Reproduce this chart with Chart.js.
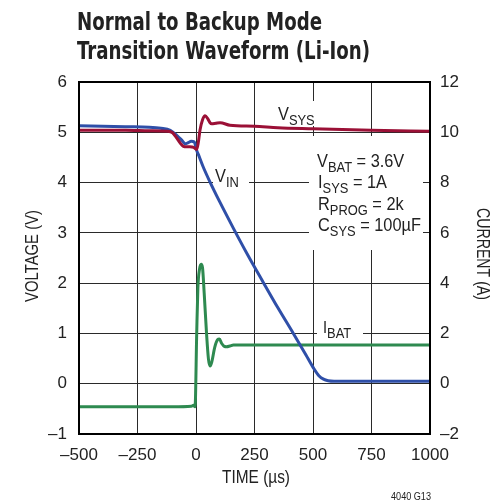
<!DOCTYPE html>
<html>
<head>
<meta charset="utf-8">
<script src="https://cdn.jsdelivr.net/npm/chart.js@4.4.1/dist/chart.umd.min.js"></script>
<style>
  body { margin: 0; background: #fff; }
  #wrap { width: 493px; height: 504px; position: relative; }
</style>
</head>
<body>
<div id="wrap"><canvas id="myChart"></canvas></div>
<script>
// datos (tiempo en us)
var tiempoVsys = [-500, -300, -200, -120, -100, -83, -65, -54, -40, -26, -10, 3, 10, 17, 28, 39, 50, 60, 67, 85, 103, 145, 250, 350, 500, 750, 1000];
var vsys = [5.04, 5.04, 5.03, 5.02, 4.99, 4.89, 4.77, 4.72, 4.71, 4.71, 4.70, 4.66, 4.80, 5.04, 5.25, 5.33, 5.27, 5.19, 5.17, 5.18, 5.19, 5.14, 5.12, 5.09, 5.07, 5.04, 5.02];

var tiempoVin = [-500, -400, -300, -200, -150, -110, -80, -60, -45, -35, -20, -8, 0, 3, 10, 30, 60, 100, 160, 220, 287, 350, 416, 470, 501, 525, 545, 565, 590, 700, 850, 1000];
var vin = [5.13, 5.12, 5.11, 5.10, 5.08, 5.04, 4.93, 4.84, 4.77, 4.79, 4.82, 4.81, 4.70, 4.64, 4.56, 4.32, 4.01, 3.63, 3.09, 2.57, 2.02, 1.51, 1.00, 0.57, 0.32, 0.16, 0.09, 0.06, 0.05, 0.05, 0.05, 0.05];

var tiempoIbat = [-500, -300, -100, -20, -10, -4, 3, 8, 15, 22, 28, 35, 45, 53, 60, 67, 80, 92, 100, 110, 122, 131, 145, 160, 400, 700, 1000];
var ibat = [-0.92, -0.92, -0.92, -0.90, -0.86, -0.92, 2.0, 3.8, 4.55, 4.75, 4.6, 3.6, 2.0, 1.0, 0.70, 0.85, 1.45, 1.75, 1.78, 1.60, 1.48, 1.47, 1.50, 1.54, 1.54, 1.54, 1.54];

var FUENTE = "'Liberation Sans', Arial, sans-serif";
var FUENTE_TIT = "'DejaVu Sans Condensed', 'Liberation Sans', sans-serif";
var ESC = 0.86; // el original usa letra estrecha

function puntos(xs, ys) {
    var res = [];
    for (var i = 0; i < xs.length; i++) res.push({x: xs[i], y: ys[i]});
    return res;
}

function guion(v) {
    return String(v).replace('-', '\u2013');
}

// texto con subindice: principal, sub, resto
function textoSub(ctx, x, y, main, sub, resto, tam, tamSub) {
    ctx.save();
    ctx.translate(x, y);
    ctx.scale(ESC, 1);
    var px = 0;
    ctx.font = tam + "px " + FUENTE;
    ctx.fillText(main, px, 0);
    px += ctx.measureText(main).width;
    ctx.font = tamSub + "px " + FUENTE;
    ctx.fillText(sub, px, 5);
    px += ctx.measureText(sub).width;
    if (resto) {
        ctx.font = tam + "px " + FUENTE;
        ctx.fillText(resto, px, 0);
    }
    ctx.restore();
}

// texto ajustado a un ancho
function textoAncho(ctx, txt, x, y, ancho) {
    var w = ctx.measureText(txt).width;
    ctx.save();
    ctx.translate(x, y);
    ctx.scale(ancho / w, 1);
    ctx.fillText(txt, 0, 0);
    ctx.restore();
}

var cajas = {
    id: 'cajas',
    beforeDatasetsDraw: function(chart) {
        var ctx = chart.ctx;
        ctx.save();
        ctx.fillStyle = '#fff';
        ctx.fillRect(275, 101, 42, 25);
        ctx.fillRect(213, 165, 36, 28);
        ctx.fillRect(309, 136, 114, 114);
        ctx.fillRect(317, 317, 46, 24);
        ctx.restore();
    },
    afterDatasetsDraw: function(chart) {
        var a = chart.chartArea;
        var ctx = chart.ctx;
        ctx.save();
        ctx.strokeStyle = '#000';
        ctx.lineWidth = 2;
        ctx.strokeRect(a.left, a.top, a.right - a.left, a.bottom - a.top);
        ctx.restore();
    },
    afterDraw: function(chart) {
        var ctx = chart.ctx;
        ctx.save();
        ctx.fillStyle = '#222';
        ctx.textBaseline = 'alphabetic';
        ctx.textAlign = 'left';

        // titulo
        ctx.font = "bold 25px " + FUENTE_TIT;
        textoAncho(ctx, "Normal to Backup Mode", 77, 30, 245);
        textoAncho(ctx, "Transition Waveform (Li-Ion)", 77, 59, 293);

        // etiquetas de las curvas
        textoSub(ctx, 278, 120, "V", "SYS", "", 19, 15);
        textoSub(ctx, 215, 182, "V", "IN", "", 19, 15);
        textoSub(ctx, 323, 333, "I", "BAT", "", 17, 15);

        textoSub(ctx, 317, 167, "V", "BAT", " = 3.6V", 19, 15);
        textoSub(ctx, 318, 188, "I", "SYS", " = 1A", 19, 15);
        textoSub(ctx, 318, 210, "R", "PROG", " = 2k", 19, 15);
        textoSub(ctx, 318, 231, "C", "SYS", " = 100\u00b5F", 19, 15);

        // titulos de ejes
        ctx.font = "18px " + FUENTE;
        textoAncho(ctx, "TIME (\u00b5s)", 222, 483, 68);

        ctx.save();
        ctx.translate(38, 256);
        ctx.rotate(-Math.PI / 2);
        textoAncho(ctx, "VOLTAGE (V)", -46, 0, 92);
        ctx.restore();

        ctx.save();
        ctx.translate(477, 254);
        ctx.rotate(Math.PI / 2);
        textoAncho(ctx, "CURRENT (A)", -46, 0, 92);
        ctx.restore();

        ctx.font = "10px " + FUENTE;
        textoAncho(ctx, "4040 G13", 391, 500, 40);
        ctx.restore();
    }
};

var ctx = document.getElementById("myChart");
var grafica = new Chart(ctx, {
    type: 'line',
    data: {
        datasets: [
            {
                label: 'VSYS',
                data: puntos(tiempoVsys, vsys),
                borderColor: '#9b1036',
                yAxisID: 'y'
            },
            {
                label: 'VIN',
                data: puntos(tiempoVin, vin),
                borderColor: '#2f4fa8',
                yAxisID: 'y'
            },
            {
                label: 'IBAT',
                data: puntos(tiempoIbat, ibat),
                borderColor: '#2e8a50',
                yAxisID: 'y2'
            }
        ]
    },
    options: {
        responsive: true,
        maintainAspectRatio: false,
        animation: false,
        layout: { padding: { top: 82 } },
        elements: {
            point: { radius: 0 },
            line: { borderWidth: 3, cubicInterpolationMode: 'monotone', fill: false }
        },
        plugins: {
            legend: { display: false },
            tooltip: { enabled: false }
        },
        scales: {
            x: {
                type: 'linear',
                min: -500,
                max: 1000,
                afterFit: function(s) { s.height = 70; },
                ticks: {
                    stepSize: 250,
                    padding: 11,
                    color: '#222',
                    font: { family: FUENTE, size: 17 },
                    callback: function(v) { return guion(v); }
                },
                grid: { color: '#2a2a2a', lineWidth: 1, drawTicks: false },
                border: { color: '#000', width: 2 }
            },
            y: {
                position: 'left',
                min: -1,
                max: 6,
                afterFit: function(s) { s.width = 79; },
                ticks: {
                    stepSize: 1,
                    padding: 12,
                    color: '#222',
                    font: { family: FUENTE, size: 17 },
                    callback: function(v) { return guion(v); }
                },
                grid: { color: '#2a2a2a', lineWidth: 1, drawTicks: false },
                border: { color: '#000', width: 2 }
            },
            y2: {
                position: 'right',
                min: -2,
                max: 12,
                afterFit: function(s) { s.width = 63; },
                ticks: {
                    stepSize: 2,
                    padding: 10,
                    color: '#222',
                    font: { family: FUENTE, size: 17 },
                    callback: function(v) { return guion(v); }
                },
                grid: { display: false, drawTicks: false },
                border: { color: '#000', width: 2 }
            }
        }
    },
    plugins: [cajas]
});
</script>
</body>
</html>
